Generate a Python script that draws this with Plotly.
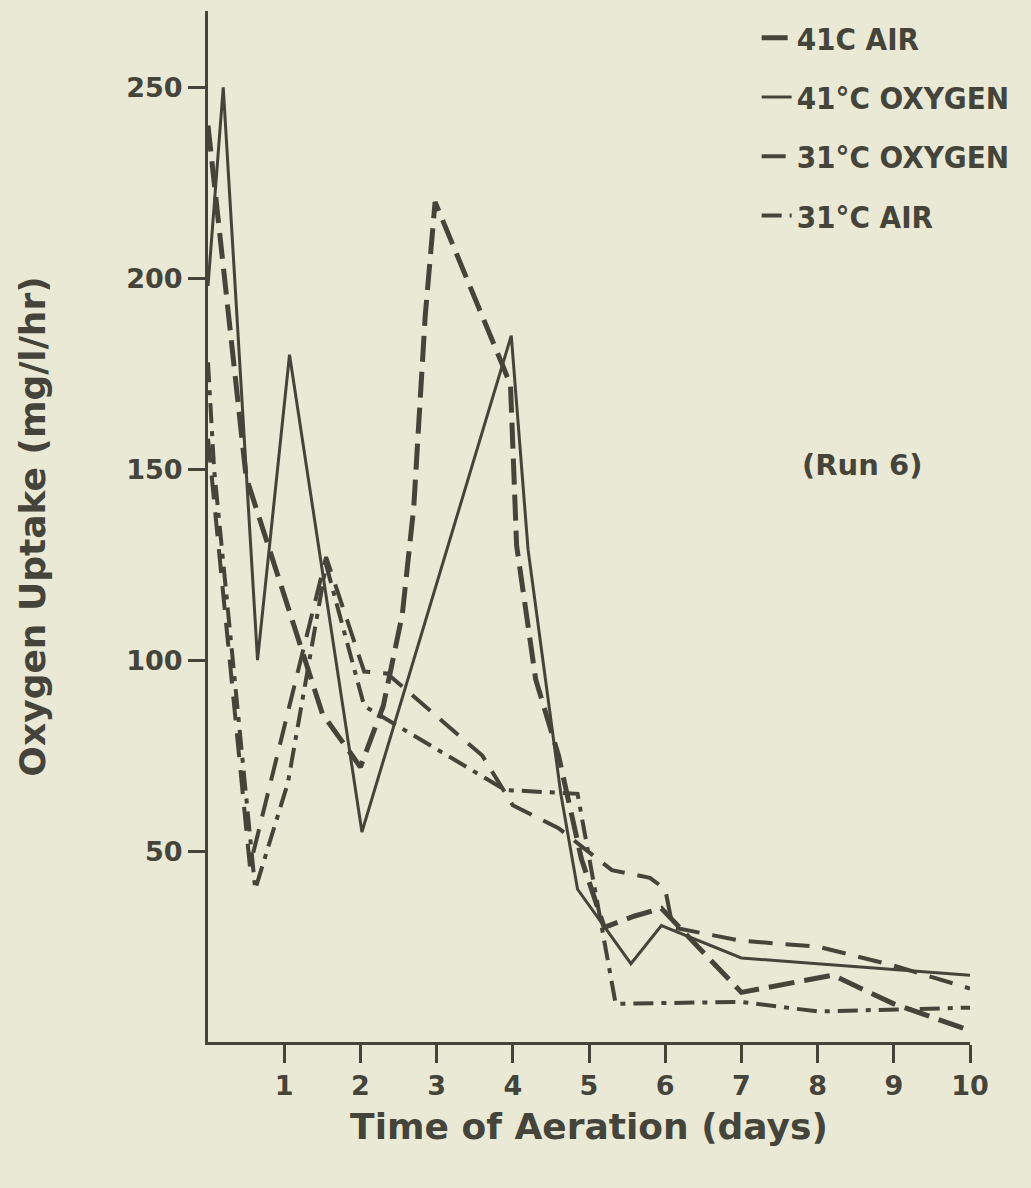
import plotly.graph_objects as go

# ---- data ----
days_41c_air = [0, 0.5, 1.0, 1.5, 2.0, 2.3, 2.55, 2.7, 2.85, 2.98, 3.85, 3.97, 4.05, 4.3, 4.6, 4.9, 5.2, 5.6, 5.95, 7.0, 8.2, 9.0, 10.0]
uptake_41c_air = [240, 148, 117, 86, 72, 88, 112, 140, 190, 220, 178, 172, 130, 95, 75, 48, 30, 33, 35, 13, 17.5, 10, 3]

days_41c_oxygen = [0, 0.2, 0.65, 1.07, 2.02, 3.0, 3.98, 4.2, 4.63, 4.85, 5.55, 5.95, 7.0, 8.0, 9.0, 10.0]
uptake_41c_oxygen = [198, 250, 100, 180, 55, 120, 185, 129, 65, 40, 20.5, 30.5, 22, 20.5, 19, 17.5]

days_31c_oxygen = [0, 0.55, 1.55, 2.05, 2.35, 3.6, 4.0, 4.6, 5.3, 5.8, 6.0, 6.1, 7.0, 8.0, 9.0, 10.0]
uptake_31c_oxygen = [158, 46, 127, 97, 96.5, 75, 62, 56, 45, 43, 40, 30, 26.5, 25, 20, 14]

days_31c_air = [0, 0.08, 0.62, 1.05, 1.55, 2.05, 3.9, 4.85, 5.35, 7.0, 8.0, 9.0, 10.0]
uptake_31c_air = [178, 150, 40, 68, 125, 88, 66, 65, 10, 10.5, 8, 8.5, 9]

series_names = ["41C AIR", "41°C OXYGEN", "31°C OXYGEN", "31°C AIR"]
x_ticks = [1, 2, 3, 4, 5, 6, 7, 8, 9, 10]
y_ticks = [50, 100, 150, 200, 250]

INK = "#45443a"
BG = "#EAE9D5"
FONT = "DejaVu Sans"
LEG_FONT = "Liberation Sans Narrow, DejaVu Sans Condensed, DejaVu Sans"

fig = go.Figure()
styles = [
    (days_41c_air, uptake_41c_air, dict(width=5, dash="26px,10px")),
    (days_41c_oxygen, uptake_41c_oxygen, dict(width=3, dash="solid")),
    (days_31c_oxygen, uptake_31c_oxygen, dict(width=4, dash="24px,13px")),
    (days_31c_air, uptake_31c_air, dict(width=4, dash="20px,8px,5px,8px")),
]
for i, (xs, ys, ln) in enumerate(styles):
    fig.add_trace(go.Scatter(
        x=xs, y=ys, mode="lines", name=series_names[i],
        legendgroup=f"g{i}",
        line=dict(color=INK, **ln),
    ))

fig.add_annotation(
    x=8.58, y=151, xref="x", yref="y", text="(Run 6)", showarrow=False,
    font=dict(family=FONT, size=29, color=INK, weight="bold"),
)

fig.update_layout(
    width=1031, height=1188, autosize=False,
    margin=dict(l=208, r=61, t=11, b=146, autoexpand=False),
    paper_bgcolor=BG, plot_bgcolor=BG,
    showlegend=True,
    legend=dict(
        x=0.72, y=1.0, xanchor="left", yanchor="top",
        bgcolor="rgba(0,0,0,0)",
        font=dict(family=LEG_FONT, size=31, color=INK, weight="bold"),
        tracegroupgap=16,
    ),
    xaxis=dict(
        range=[0, 10], tickvals=x_ticks, ticks="outside", ticklen=18, tickwidth=3,
        tickcolor=INK, showline=True, linewidth=3, linecolor=INK,
        showgrid=False, zeroline=False,
        tickfont=dict(family=FONT, size=27, color=INK, weight="bold"),
        title=dict(text="Time of Aeration (days)", standoff=14,
                   font=dict(family=FONT, size=36, color=INK, weight="bold")),
    ),
    yaxis=dict(
        range=[0, 270], tickvals=y_ticks, ticks="outside", ticklen=17, tickwidth=3,
        tickcolor=INK, showline=True, linewidth=3, linecolor=INK,
        showgrid=False, zeroline=False,
        tickfont=dict(family=FONT, size=27, color=INK, weight="bold"),
        title=dict(text="Oxygen Uptake (mg/l/hr)", standoff=70,
                   font=dict(family=FONT, size=36, color=INK, weight="bold")),
    ),
)

fig.write_html("out.html")
